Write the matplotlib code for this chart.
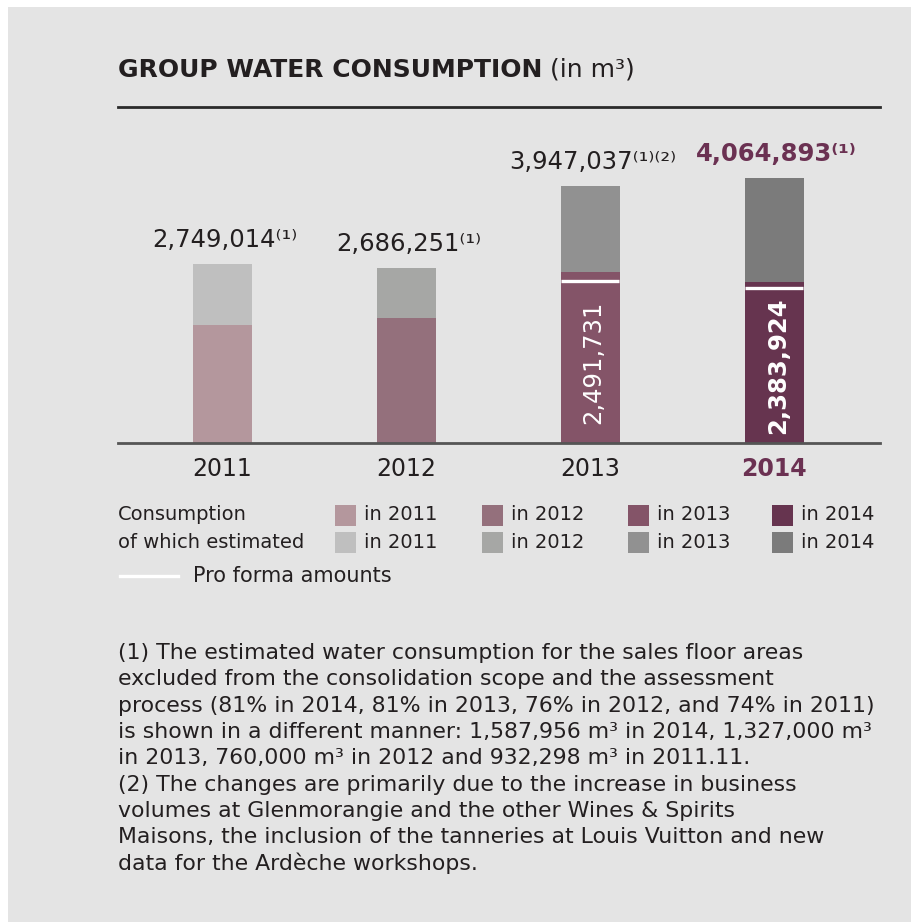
import matplotlib.pyplot as plt
from matplotlib.patches import Rectangle
from matplotlib.lines import Line2D

# data
years = ['2011', '2012', '2013', '2014']
totals = [2749014, 2686251, 3947037, 4064893]
estimated = [932298, 760000, 1327000, 1587956]
pro_forma = [None, None, 2491731, 2383924]
notes = ['\u207d\u00b9\u207e', '\u207d\u00b9\u207e', '\u207d\u00b9\u207e\u207d\u00b2\u207e', '\u207d\u00b9\u207e']

cons_colors = ['#b4979d', '#94707c', '#845468', '#66344f']
est_colors = ['#bfbfbf', '#a6a7a5', '#919191', '#7b7b7b']

footnotes = [
    "(1) The estimated water consumption for the sales floor areas",
    "excluded from the consolidation scope and the assessment",
    "process (81% in 2014, 81% in 2013, 76% in 2012, and 74% in 2011)",
    "is shown in a different manner: 1,587,956 m\u00b3 in 2014, 1,327,000 m\u00b3",
    "in 2013, 760,000 m\u00b3 in 2012 and 932,298 m\u00b3 in 2011.11.",
    "(2) The changes are primarily due to the increase in business",
    "volumes at Glenmorangie and the other Wines & Spirits",
    "Maisons, the inclusion of the tanneries at Louis Vuitton and new",
    "data for the Ard\u00e8che workshops.",
]

W, H = 912, 922
BG = '#e4e4e4'
DARK = '#231f20'
PURPLE = '#6b3152'

plt.rcParams['font.family'] = ['DejaVu Sans']


def px(x, y):
    # pixel position (from top-left) -> figure fraction
    return x / W, 1 - y / H


fig = plt.figure(figsize=(W / 100, H / 100), dpi=100)
fig.patch.set_facecolor('white')
fig.patches.append(Rectangle(px(8, H), (W - 8) / W, (H - 7) / H,
                             transform=fig.transFigure, facecolor=BG,
                             edgecolor='none', zorder=-10))

# title and rule
title = fig.text(*px(118, 70), 'GROUP WATER CONSUMPTION', fontsize=18, fontweight='bold',
                 color=DARK, va='center', ha='left')
fig.canvas.draw()
tb = title.get_window_extent()
fig.text(tb.x1 / W + 8 / W, 1 - 70 / H, '(in m\u00b3)', fontsize=18, color=DARK,
         va='center', ha='left')
fig.lines.append(Line2D([118 / W, 880 / W], [1 - 107 / H] * 2, transform=fig.transFigure,
                        color='#2a2a2a', lw=2))

# bar axes
ppm = 65.1  # pixels per million
ax_left, ax_right, base_y, top_y = 118, 880, 443, 120
ax = fig.add_axes([ax_left / W, 1 - base_y / H, (ax_right - ax_left) / W, (base_y - top_y) / H])
slot = 184.0
x0 = -(222 - ax_left) / slot
ax.set_xlim(x0, x0 + (ax_right - ax_left) / slot)
ax.set_ylim(0, (base_y - top_y) / ppm * 1e6)
for s in ['top', 'right', 'left']:
    ax.spines[s].set_visible(False)
ax.spines['bottom'].set_color('#555555')
ax.spines['bottom'].set_linewidth(2)
ax.set_yticks([])
ax.set_xticks([])
ax.patch.set_visible(False)

xs = list(range(len(years)))
consumption = [t - e for t, e in zip(totals, estimated)]
bw = 59 / slot
ax.bar(xs, consumption, width=bw, color=cons_colors, zorder=2)
ax.bar(xs, estimated, bottom=consumption, width=bw, color=est_colors, zorder=2)

for i, pf in enumerate(pro_forma):
    if pf is None:
        continue
    ax.hlines(pf, i - bw / 2, i + bw / 2, color='white', lw=2.4, zorder=3)
    ax.text(i + 0.02, pf / 2, f'{pf:,}', rotation=90, ha='center', va='center',
            color='white', fontsize=17.5, fontweight='bold' if i == 3 else 'normal', zorder=4)

for i, t in enumerate(totals):
    last = i == len(totals) - 1
    ax.annotate(f'{t:,}' + notes[i], (i, t), xytext=(2, 9), textcoords='offset points',
                ha='center', va='bottom', fontsize=17.5,
                color=PURPLE if last else DARK, fontweight='bold' if last else 'normal')
    ax.annotate(years[i], (i, 0), xytext=(0, -10), textcoords='offset points',
                ha='center', va='top', fontsize=17,
                color=PURPLE if last else DARK, fontweight='bold' if last else 'normal')

# legend
row1, row2 = 515, 542
fs_leg = 14
fig.text(*px(118, row1), 'Consumption', fontsize=fs_leg, color=DARK, va='center')
fig.text(*px(118, row2), 'of which estimated', fontsize=fs_leg, color=DARK, va='center')
sq_x = [335, 482, 628, 772]
for i, y in enumerate(years):
    for row, cols in ((row1, cons_colors), (row2, est_colors)):
        fig.patches.append(Rectangle(px(sq_x[i], row + 10.5), 21 / W, 21 / H,
                                     transform=fig.transFigure, facecolor=cols[i],
                                     edgecolor='none'))
        fig.text(*px(sq_x[i] + 29, row), 'in ' + y, fontsize=fs_leg, color=DARK, va='center')
fig.lines.append(Line2D([120 / W, 178 / W], [1 - 576 / H] * 2, transform=fig.transFigure,
                        color='white', lw=2.4))
fig.text(*px(193, 576), 'Pro forma amounts', fontsize=15, color=DARK, va='center')

# footnotes
for k, line in enumerate(footnotes):
    fig.text(*px(118, 653 + k * 26.3), line, fontsize=15.8, color=DARK, va='center')

fig.savefig('out.png', dpi=100, facecolor=fig.get_facecolor())
